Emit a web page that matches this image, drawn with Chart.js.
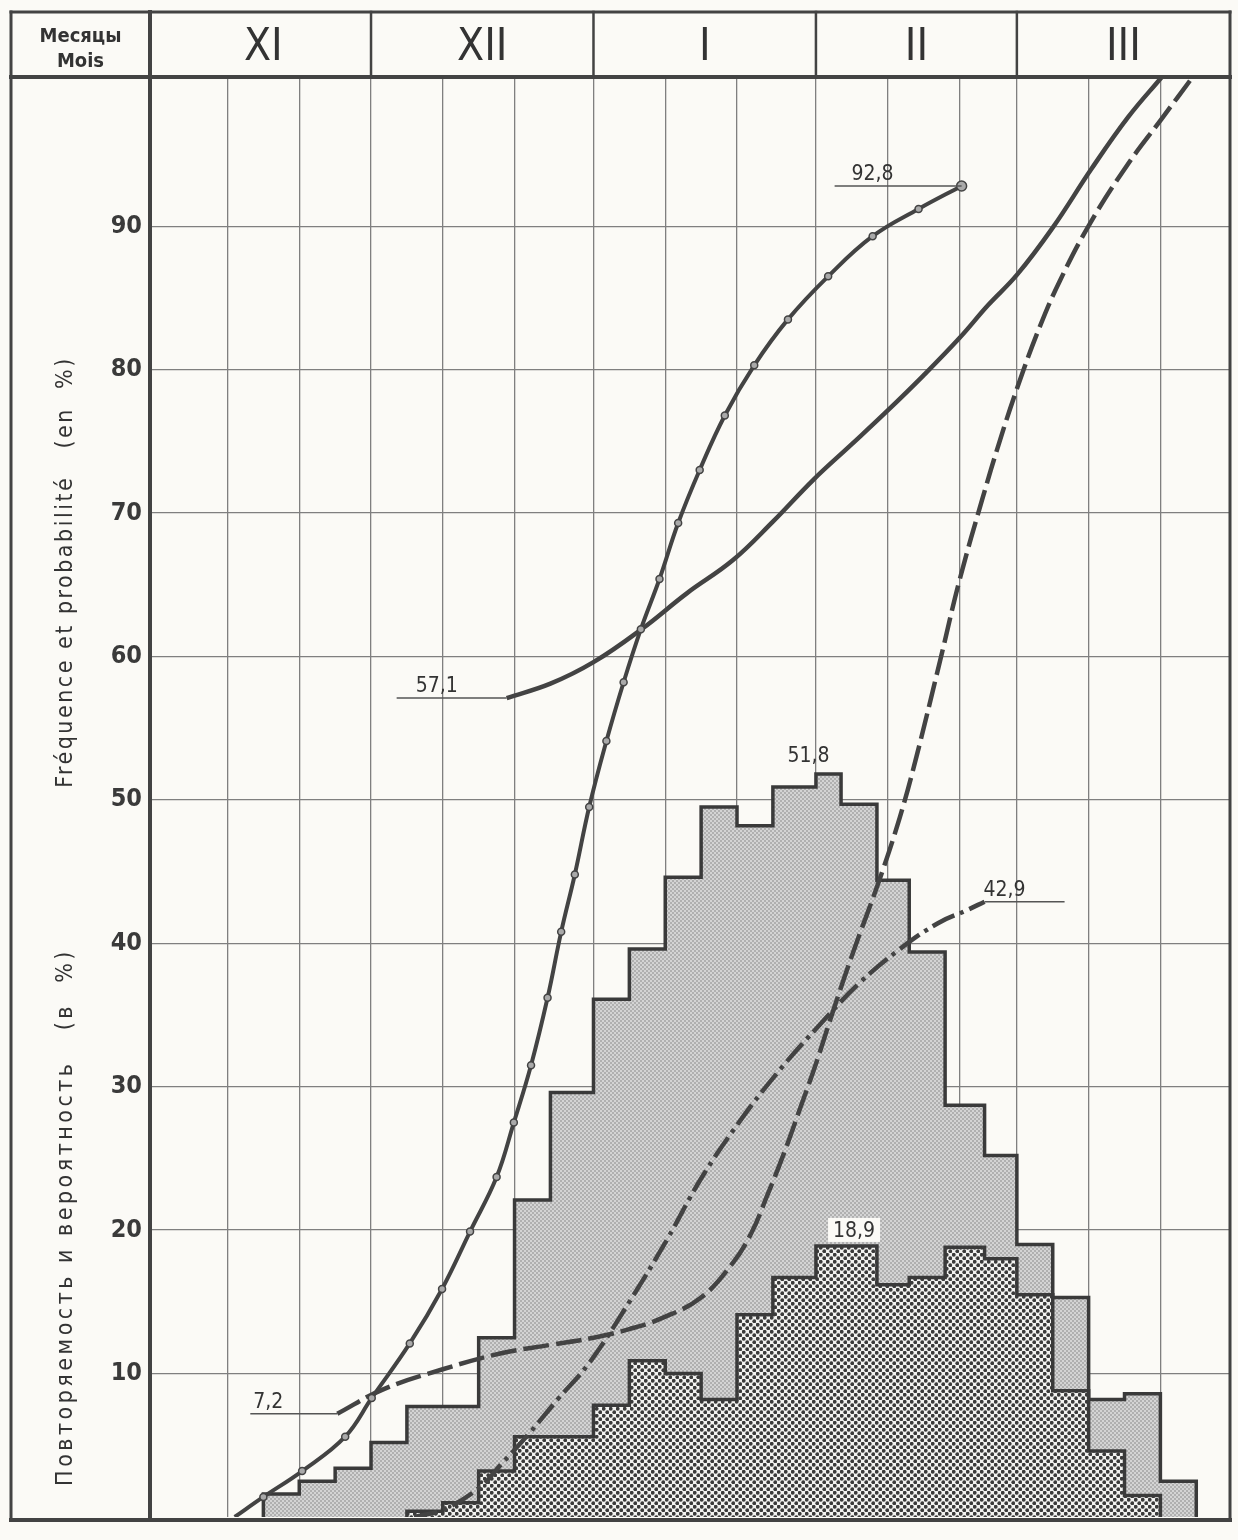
<!DOCTYPE html>
<html>
<head>
<meta charset="utf-8">
<script src="https://cdn.jsdelivr.net/npm/chart.js@4.4.1/dist/chart.umd.min.js"></script>
<style>
  html, body { margin: 0; padding: 0; background: #fbfaf6; }
  canvas { display: block; }
</style>
</head>
<body>
<canvas id="grafico" width="1238" height="1540"></canvas>
<script>
// x = dias contados a partir de 1 de novembro (0 = 1.XI)
const months = ["XI", "XII", "I", "II", "III"];
const monthStarts = [0, 30, 61, 92, 120];
const decadeDays = [10, 20, 30, 40, 50, 61, 71, 81, 92, 102, 112, 120, 130, 140];
const yTicks = [10, 20, 30, 40, 50, 60, 70, 80, 90];

// histogramas por pentadas
const pentadEdges = [15, 20, 25, 30, 35, 40, 45, 50, 55, 61, 66, 71, 76, 81, 86, 92,
  95.5, 100.5, 105, 110, 115.5, 120, 125, 130, 135, 140, 145];
const freqTotal = [1.6, 2.5, 3.4, 5.2, 7.7, 7.7, 12.5, 22.1, 29.6, 36.1, 39.6, 44.6, 49.5,
  48.2, 50.9, 51.8, 49.7, 44.4, 39.4, 28.7, 25.2, 19.0, 15.3, 8.2, 8.6, 2.5];
const freqInner = [0, 0, 0, 0, 0.4, 1.0, 3.2, 5.6, 5.6, 7.8, 10.9, 10.0, 8.2,
  14.1, 16.7, 18.9, 18.9, 16.2, 16.7, 18.8, 18.0, 15.5, 8.8, 4.6, 1.5, 0];

// curvas [dia, %]
const cumulCurve = [[11, 0], [15, 1.4], [20.4, 3.2], [26.4, 5.6], [30.1, 8.3], [35.4, 12.1],
  [39.9, 15.9], [43.8, 19.9], [47.5, 23.7], [49.9, 27.5], [52.3, 31.5], [54.6, 36.2],
  [56.5, 40.8], [58.4, 44.8], [60.4, 49.5], [62.8, 54.1], [65.2, 58.2], [67.6, 61.9],
  [70.2, 65.4], [72.8, 69.3], [75.8, 73.0], [79.3, 76.8], [83.4, 80.3], [88.1, 83.5],
  [93.7, 86.5], [99.9, 89.3], [106.3, 91.2], [112.3, 92.8]];
const solidCurve = [[48.9, 57.1], [55, 58.1], [61, 59.6], [67.7, 61.9], [74, 64.4],
  [80.4, 66.7], [86, 69.4], [91.6, 72.3], [97, 74.8], [101.9, 77.1], [107, 79.6],
  [112, 82.2], [116, 84.5], [120, 86.6], [125, 89.9], [130.4, 94.0], [135.5, 97.6], [140.2, 100.4]];
const dashedCurve = [[25.3, 7.2], [31.7, 8.9], [40, 10.3], [48, 11.4], [55, 12.0], [61, 12.5],
  [66, 13.1], [70.7, 13.9], [76, 15.3], [80.4, 17.7], [83, 19.8], [85.2, 22.4], [87.5, 25.3],
  [89.8, 28.5], [92, 31.6], [94.4, 35.3], [97.2, 39.4], [100.9, 44.5], [103.7, 48.8],
  [106, 53.0], [109.3, 59.7], [112, 65.3], [115.2, 71.0], [117.6, 75.0], [120.1, 78.8],
  [123.2, 83.0], [126, 86.2], [130.2, 90.2], [135.3, 94.2], [140.2, 97.5], [144.5, 100.4]];
const dashDotCurve = [[36, 0], [40, 0.5], [45, 2.0], [48, 3.6], [52, 5.8], [56, 8.2],
  [60.5, 10.8], [66, 15.0], [71.2, 19.3], [76, 23.6], [81.4, 27.6], [87, 31.2],
  [92.5, 34.3], [98, 37.2], [103.7, 39.6], [109, 41.4], [113, 42.3], [115.5, 42.9]];

const INK = "#434343";
const FONT = "'DejaVu Sans Condensed', 'DejaVu Sans', sans-serif";

function makePattern(size, bg, dots, r, color) {
  const c = document.createElement("canvas");
  c.width = c.height = size;
  const g = c.getContext("2d");
  g.fillStyle = bg;
  g.fillRect(0, 0, size, size);
  g.fillStyle = color;
  dots.forEach(([x, y]) => { g.beginPath(); g.arc(x, y, r, 0, Math.PI * 2); g.fill(); });
  return g.createPattern(c, "repeat");
}

function histPoints(edges, values) {
  let first = values.findIndex(v => v > 0);
  let last = values.length - 1;
  while (values[last] <= 0) last--;
  const pts = [{ x: edges[first], y: 0 }];
  for (let i = first; i <= last; i++) pts.push({ x: edges[i], y: values[i] });
  pts.push({ x: edges[last + 1], y: 0 });
  return pts;
}

const toXY = arr => arr.map(([x, y]) => ({ x, y }));
const fmt = v => v.toFixed(1).replace(".", ",");

const framePlugin = {
  id: "frame",
  beforeDraw(chart) {
    const ctx = chart.ctx;
    ctx.save();
    ctx.fillStyle = "#fbfaf6";
    ctx.fillRect(0, 0, chart.width, chart.height);
    ctx.restore();
  },
  afterDatasetsDraw(chart) {
    const { ctx, scales: { x, y } } = chart;
    ctx.save();
    ctx.font = "21px " + FONT;
    ctx.fillStyle = "#333";
    ctx.strokeStyle = "#555";
    ctx.lineWidth = 1.5;
    ctx.textAlign = "center";
    ctx.textBaseline = "alphabetic";
    const leader = (pt, dx, textDx) => {
      const px = x.getPixelForValue(pt[0]);
      const py = y.getPixelForValue(pt[1]);
      ctx.beginPath();
      ctx.moveTo(px, py);
      ctx.lineTo(px + dx, py);
      ctx.stroke();
      ctx.fillText(fmt(pt[1]), px + textDx, py - 6);
    };
    leader(solidCurve[0], -110, -70);
    leader(cumulCurve[cumulCurve.length - 1], -127, -89);
    leader(dashedCurve[0], -87, -69);
    leader(dashDotCurve[dashDotCurve.length - 1], 80, 20);

    // máximos dos histogramas
    const iTot = freqTotal.indexOf(Math.max(...freqTotal));
    const cx1 = x.getPixelForValue((pentadEdges[iTot] + pentadEdges[iTot + 1]) / 2);
    ctx.fillText(fmt(freqTotal[iTot]), cx1 - 20, y.getPixelForValue(freqTotal[iTot]) - 12);
    const iIn = freqInner.indexOf(Math.max(...freqInner));
    const cx2 = x.getPixelForValue(pentadEdges[iIn + 1]) + 12;
    const ty = y.getPixelForValue(freqInner[iIn]) - 9;
    ctx.fillStyle = "#fbfaf6";
    ctx.fillRect(cx2 - 25, ty - 19, 52, 24);
    ctx.fillStyle = "#333";
    ctx.fillText(fmt(freqInner[iIn]), cx2 + 1, ty);
    ctx.restore();
  },
  afterDraw(chart) {
    const { ctx, chartArea: a, scales: { x } } = chart;
    const top = 12, left = 11, headerBottom = a.top;
    ctx.save();
    ctx.strokeStyle = INK;
    ctx.lineCap = "square";
    const line = (x1, y1, x2, y2, w) => {
      ctx.lineWidth = w;
      ctx.beginPath();
      ctx.moveTo(x1, y1);
      ctx.lineTo(x2, y2);
      ctx.stroke();
    };
    line(left, top, a.right, top, 3);
    line(left, top, left, a.bottom + 3, 3);
    line(a.right, top, a.right, a.bottom + 3, 3);
    line(left, a.bottom + 3, a.right, a.bottom + 3, 4);
    line(left, headerBottom, a.right, headerBottom, 4);
    line(a.left, top, a.left, a.bottom + 3, 4);

    // cabeçalho dos meses
    ctx.fillStyle = "#333";
    ctx.textAlign = "center";
    ctx.textBaseline = "middle";
    ctx.font = "44px " + FONT;
    months.forEach((m, i) => {
      const x0 = Math.max(a.left, x.getPixelForValue(monthStarts[i]));
      const x1 = i + 1 < monthStarts.length ? x.getPixelForValue(monthStarts[i + 1]) : a.right;
      if (i > 0) line(x0, top, x0, headerBottom, 2.5);
      ctx.fillText(m, (x0 + x1) / 2, 49);
    });
    ctx.font = "bold 20px " + FONT;
    ctx.fillText("Месяцы", (left + a.left) / 2, 37);
    ctx.fillText("Mois", (left + a.left) / 2, 62);

    // títulos do eixo y
    ctx.font = "23px " + FONT;
    ctx.letterSpacing = "2.5px";
    ctx.translate(66, 0);
    ctx.rotate(-Math.PI / 2);
    ctx.fillText("Fréquence et probabilité   (en  %)", -572, 0);
    ctx.letterSpacing = "3.5px";
    ctx.fillText("Повторяемость и вероятность   (в  %)", -1217, 0);
    ctx.restore();
  }
};

const gridColor = "#7f7f7f";

new Chart(document.getElementById("grafico"), {
  type: "line",
  data: {
    datasets: [
      {
        label: "cumul",
        data: toXY(cumulCurve),
        borderColor: INK,
        borderWidth: 4,
        tension: 0.4,
        pointRadius: c => (c.dataIndex === 0 ? 0 : c.dataIndex === cumulCurve.length - 1 ? 5 : 3.5),
        pointBackgroundColor: "#a9a9a9",
        pointBorderColor: INK,
        pointBorderWidth: 1.5,
        fill: false,
        order: 1,
      },
      {
        label: "solid",
        data: toXY(solidCurve),
        borderColor: INK,
        borderWidth: 4.5,
        tension: 0.4,
        pointRadius: 0,
        fill: false,
        order: 2,
      },
      {
        label: "dashed",
        data: toXY(dashedCurve),
        borderColor: INK,
        borderWidth: 4.5,
        borderDash: [26, 7],
        tension: 0.4,
        pointRadius: 0,
        fill: false,
        order: 3,
      },
      {
        label: "dashdot",
        data: toXY(dashDotCurve),
        borderColor: INK,
        borderWidth: 4.5,
        borderDash: [24, 6, 4, 6],
        tension: 0.4,
        pointRadius: 0,
        fill: false,
        order: 4,
      },
      {
        label: "inner",
        data: histPoints(pentadEdges, freqInner),
        stepped: "before",
        borderColor: "#3a3a3a",
        borderWidth: 3.5,
        borderJoinStyle: "miter",
        pointRadius: 0,
        backgroundColor: makePattern(7, "#f2f2f0", [[1.75, 1.75], [5.25, 5.25]], 1.9, "#3a3a3a"),
        fill: "origin",
        order: 5,
      },
      {
        label: "total",
        data: histPoints(pentadEdges, freqTotal),
        stepped: "before",
        borderColor: "#3a3a3a",
        borderWidth: 3.5,
        borderJoinStyle: "miter",
        pointRadius: 0,
        backgroundColor: makePattern(4, "#d4d4d4", [[1, 1], [3, 3]], 0.75, "#7a7a7a"),
        fill: "origin",
        order: 6,
      },
    ],
  },
  options: {
    responsive: false,
    animation: false,
    events: [],
    layout: { padding: { left: 10, top: 77, right: 8, bottom: 7 } },
    plugins: { legend: { display: false }, tooltip: { enabled: false } },
    scales: {
      x: {
        type: "linear",
        min: -0.8,
        max: 149.7,
        z: 1,
        afterBuildTicks: s => { s.ticks = decadeDays.map(v => ({ value: v })); },
        afterFit: s => { s.height = 0; },
        ticks: { display: false },
        border: { display: false },
        grid: { drawTicks: false, color: gridColor, lineWidth: 1.3 },
      },
      y: {
        min: 0,
        max: 100.4,
        z: 1,
        afterBuildTicks: s => { s.ticks = yTicks.map(v => ({ value: v })); },
        afterFit: s => { s.width = 140; },
        ticks: {
          padding: 8,
          color: "#3a3a3a",
          font: { family: FONT, size: 25, weight: "bold" },
          callback: v => String(v),
        },
        border: { display: false },
        grid: { drawTicks: false, color: gridColor, lineWidth: 1.3 },
      },
    },
  },
  plugins: [framePlugin],
});
</script>
</body>
</html>
